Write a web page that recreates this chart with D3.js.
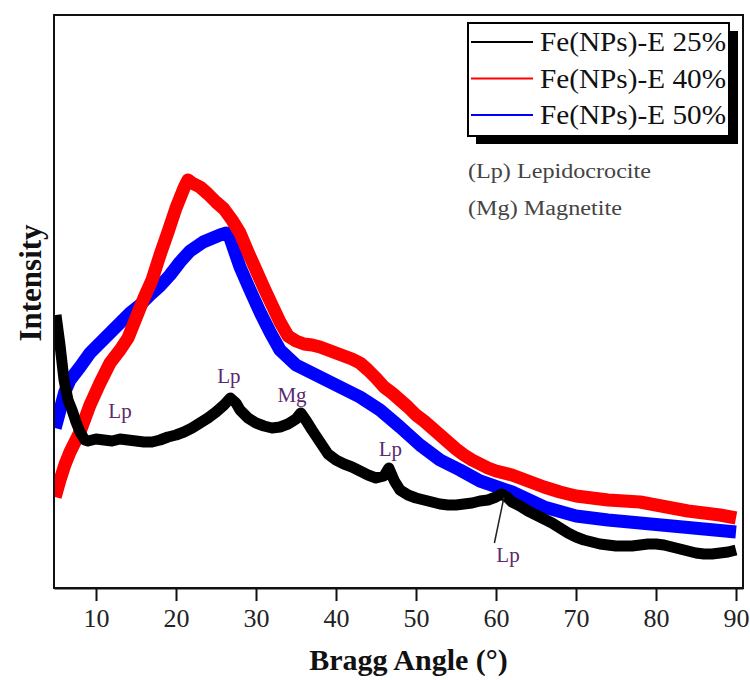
<!DOCTYPE html>
<html>
<head>
<meta charset="utf-8">
<script src="https://cdn.jsdelivr.net/npm/d3@7"></script>
<style>
  body { margin: 0; background: #fff; }
  svg text { font-family: "Liberation Serif", "Times New Roman", serif; }
</style>
</head>
<body>
<div id="chart"></div>
<script>
// XRD patterns (intensity in arbitrary units)
const angle25 = [5, 5.5, 6, 6.5, 7, 7.5, 8, 8.6, 9, 10, 11, 12, 13, 14, 15, 16, 17, 18, 19, 20, 21, 22, 23, 24, 25, 26, 26.8, 27.5, 28, 29, 30, 31, 32, 33, 34, 35, 35.6, 36.3, 37, 38, 39, 40, 41, 42, 43, 44, 45, 46, 46.6, 47.3, 48, 49, 50, 51, 52, 53, 54, 55, 56, 57, 58, 59, 60, 60.7, 61.5, 62, 63, 64, 65, 66, 67, 68, 69, 70, 71, 72, 73, 74, 75, 76, 77, 78, 79, 80, 81, 82, 83, 84, 85, 86, 87, 88, 89, 90];
const int25 = [273, 243, 208, 188, 178, 166, 156, 148, 147, 149, 148, 147, 149, 148, 147, 146, 146, 148, 151, 153, 156, 160, 165, 170, 176, 183, 190, 185, 178, 170, 165, 162, 160, 161, 164, 169, 175, 167, 158, 146, 134, 128, 124, 121, 117, 113, 110, 112, 120, 107, 98, 93, 90, 88, 86, 84, 83, 83, 84, 85, 87, 88, 91, 94, 90, 86, 82, 77, 73, 69, 65, 60, 55, 51, 48, 46, 44, 43, 42, 42, 42, 43, 44, 44, 43, 41, 39, 37, 35, 34, 34, 35, 36, 38];

const angle40 = [4.9, 5.5, 6.1, 6.75, 8, 9.25, 10.5, 11.75, 13, 14, 15, 16, 17, 18, 19, 20, 21, 21.5, 22, 23, 24, 25, 26, 27, 28, 29, 30, 31, 32, 33, 34, 35, 36, 37, 38, 39, 40, 41, 42, 43, 44, 45, 46, 47, 48, 49, 50, 51, 52, 53, 54, 55, 56, 57, 58, 59, 60, 62, 64, 66, 68, 70, 72, 74, 76, 78, 80, 82, 84, 86, 88, 90];
const int40 = [91, 108, 123, 136, 156, 183, 205, 225, 238, 250, 270, 290, 308, 333, 356, 380, 400, 408, 405, 401, 394, 386, 379, 368, 355, 336, 318, 300, 283, 266, 252, 247, 244, 243, 241, 238, 235, 232, 229, 225, 218, 210, 201, 195, 188, 181, 173, 167, 160, 153, 146, 139, 133, 128, 124, 120, 117, 113, 107, 101, 96, 92, 90, 88, 87, 86, 83, 80, 77, 75, 73, 70];

const angle50 = [4.9, 5.5, 6.1, 6.75, 8, 9.25, 10.5, 11.75, 13, 14.25, 15.5, 16.75, 18, 19.25, 20.5, 21.75, 23.4, 25.5, 26.3, 26.75, 28, 29.25, 30.5, 31.75, 33, 35, 38, 40.5, 43, 45.5, 48, 50.5, 53, 55.5, 58, 62, 66, 70, 74, 78, 82, 86, 90];
const int50 = [160, 178, 196, 208, 221, 235, 245, 255, 265, 275, 283, 293, 302, 313, 326, 337, 346, 353, 355, 350, 321, 298, 276, 256, 238, 223, 211, 201, 191, 178, 161, 143, 128, 118, 107, 96, 81, 72, 68, 65, 62, 59, 56];

const seriesNames = ["Fe(NPs)-E 25%", "Fe(NPs)-E 40%", "Fe(NPs)-E 50%"];
const seriesColors = ["#000000", "#ff0000", "#0000ff"];
const xTicks = [10, 20, 30, 40, 50, 60, 70, 80, 90];

// phase labels: [label, angle, intensity of the text baseline]
const peakLabels = [["Lp", 13, 170], ["Lp", 26.6, 205], ["Mg", 34.5, 186], ["Lp", 46.8, 132], ["Lp", 61.5, 26]];

const width = 750, height = 680;
const plot = { left: 54, right: 743, top: 15, bottom: 588 };

const svg = d3.select("#chart").append("svg")
    .attr("width", width).attr("height", height);

const x = d3.scaleLinear().domain([4.75, 90.875]).range([plot.left, plot.right]);
const y = d3.scaleLinear().domain([0, 573]).range([plot.bottom, plot.top]);

svg.append("clipPath").attr("id", "clip")
  .append("rect")
    .attr("x", plot.left).attr("y", plot.top)
    .attr("width", plot.right - plot.left).attr("height", plot.bottom - plot.top);

const line = d3.line().x(d => x(d[0])).y(d => y(d[1]));
const series = [
  d3.zip(angle25, int25),
  d3.zip(angle40, int40),
  d3.zip(angle50, int50)
];

// blue first, then red, black on top
const g = svg.append("g").attr("clip-path", "url(#clip)");
[2, 1, 0].forEach(i => {
  g.append("path")
    .datum(series[i])
    .attr("fill", "none")
    .attr("stroke", seriesColors[i])
    .attr("stroke-width", i === 0 ? 11 : 13)
    .attr("stroke-linejoin", "round")
    .attr("d", line);
});

// frame
svg.append("rect")
    .attr("x", plot.left).attr("y", plot.top)
    .attr("width", plot.right - plot.left).attr("height", plot.bottom - plot.top)
    .attr("fill", "none").attr("stroke", "#111").attr("stroke-width", 2);

// x axis
const xAxis = svg.append("g")
    .attr("transform", `translate(0,${plot.bottom})`)
    .call(d3.axisBottom(x).tickValues(xTicks).tickSize(13).tickSizeOuter(0).tickPadding(8));
xAxis.select(".domain").attr("stroke", "#111").attr("stroke-width", 2);
xAxis.selectAll(".tick line").attr("stroke", "#111").attr("stroke-width", 2);
xAxis.selectAll(".tick text")
    .attr("font-family", "Liberation Serif, serif")
    .attr("font-size", 26).attr("fill", "#222");

svg.append("text")
    .attr("x", (plot.left + plot.right) / 2 + 10).attr("y", 670)
    .attr("text-anchor", "middle")
    .attr("font-size", 30).attr("font-weight", "bold").attr("fill", "#111")
    .text("Bragg Angle (°)");

svg.append("text")
    .attr("transform", "translate(41,283) rotate(-90)")
    .attr("text-anchor", "middle")
    .attr("font-size", 31).attr("font-weight", "bold").attr("fill", "#111")
    .text("Intensity");

// peak labels
svg.selectAll(".peak")
  .data(peakLabels)
  .enter().append("text")
    .attr("class", "peak")
    .attr("x", d => x(d[1])).attr("y", d => y(d[2]))
    .attr("text-anchor", "middle")
    .attr("font-size", 21).attr("fill", "#5b2a6e")
    .text(d => d[0]);

// leader for the 61° peak
svg.append("line")
    .attr("x1", x(61.0)).attr("y1", y(91))
    .attr("x2", x(59.8)).attr("y2", y(45))
    .attr("stroke", "#222").attr("stroke-width", 1.5);

// legend
const lg = svg.append("g");
lg.append("rect").attr("x", 476).attr("y", 31).attr("width", 262).attr("height", 113).attr("fill", "#000");
lg.append("rect").attr("x", 468).attr("y", 23).attr("width", 261).attr("height", 113)
    .attr("fill", "#fff").attr("stroke", "#000").attr("stroke-width", 2);
seriesNames.forEach((name, i) => {
  const yy = 42 + i * 36.5;
  lg.append("line").attr("x1", 471).attr("x2", 533).attr("y1", yy).attr("y2", yy)
      .attr("stroke", seriesColors[i]).attr("stroke-width", 2);
  lg.append("text").attr("x", 540).attr("y", yy + 9)
      .attr("font-size", 27).attr("fill", "#111")
      .attr("textLength", 186).attr("lengthAdjust", "spacingAndGlyphs")
      .text(name);
});

svg.append("text").attr("x", 468).attr("y", 178)
    .attr("font-size", 20).attr("fill", "#444")
    .attr("textLength", 183).attr("lengthAdjust", "spacingAndGlyphs")
    .text("(Lp) Lepidocrocite");
svg.append("text").attr("x", 468).attr("y", 215)
    .attr("font-size", 20).attr("fill", "#444")
    .attr("textLength", 154).attr("lengthAdjust", "spacingAndGlyphs")
    .text("(Mg) Magnetite");
</script>
</body>
</html>
